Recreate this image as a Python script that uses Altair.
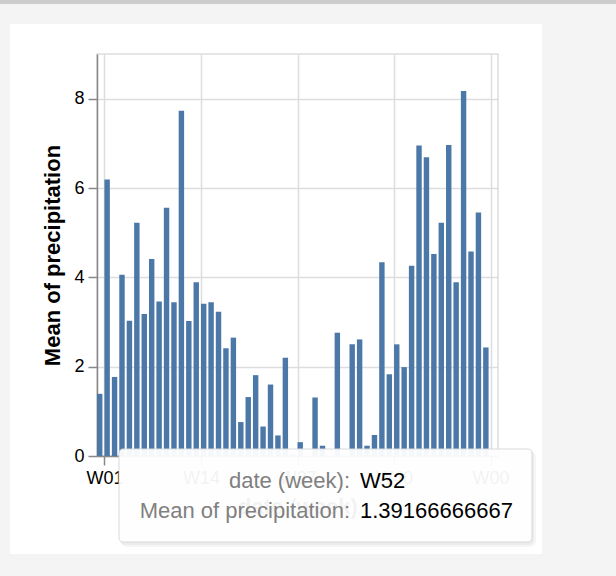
import altair as alt
import pandas as pd

# ---- data ----
weeks = list(range(54))
precipitation = [
    1.3917, 6.19, 1.77, 4.06, 3.03, 5.22, 3.18, 4.41, 3.46, 5.56,
    3.44, 7.73, 3.02, 3.89, 3.41, 3.44, 3.23, 2.41, 2.65, 0.76,
    1.32, 1.81, 0.66, 1.60, 0.46, 2.20, 0.03, 0.31, 0.0, 1.31,
    0.23, 0.0, 2.76, 0.0, 2.50, 2.61, 0.23, 0.47, 4.34, 1.83,
    2.50, 1.99, 4.26, 6.95, 6.69, 4.52, 5.22, 6.96, 3.89, 8.17,
    4.58, 5.45, 2.43, 0.0,
]
x_tick_values = [1, 14, 27, 40, 53]
x_tick_labels = ["W01", "W14", "W27", "W40", "W00"]
y_tick_values = [0, 2, 4, 6, 8]

tooltip_keys = ["date (week):", "Mean of precipitation:"]
tooltip_values = ["W52", "1.39166666667"]

df = pd.DataFrame({
    "week": weeks,
    "week_end": [w + 1 for w in weeks],
    "precipitation": precipitation,
})

label_expr = "''"
for v, l in reversed(list(zip(x_tick_values, x_tick_labels))):
    label_expr = f"datum.value == {v} ? '{l}' : ({label_expr})"

FONT = "Liberation Sans"
PL, PT, W, H = 97, 54, 401, 402
one = pd.DataFrame({"k": [0]})


def box(x, x2, y, y2, **kw):
    return alt.Chart(one).mark_rect(**kw).encode(
        x=alt.value(x), x2=alt.value(x2), y=alt.value(y), y2=alt.value(y2)
    )


# page frame around the white card (coordinates relative to plot origin)
bg = "#f4f4f4"
frame = [
    box(-PL, 616 - PL, -PT, 24 - PT, color=bg),
    box(-PL, 616 - PL, 554 - PT, 576 - PT, color=bg),
    box(-PL, 10 - PL, 24 - PT, 554 - PT, color=bg),
    box(542 - PL, 616 - PL, 24 - PT, 554 - PT, color=bg),
    box(-PL, 616 - PL, -PT, 4 - PT, color="#cccccc"),
]

bars = alt.Chart(df).mark_bar(color="#4c78a8", x2Offset=-2).encode(
    x=alt.X(
        "week:Q",
        scale=alt.Scale(domain=[0, 54], nice=False, zero=False),
        axis=alt.Axis(
            values=x_tick_values, labelExpr=label_expr, title="date (week)",
            labelFlush=False, labelOverlap=False,
        ),
    ),
    x2="week_end:Q",
    y=alt.Y(
        "precipitation:Q",
        scale=alt.Scale(domain=[0, 9], nice=False),
        axis=alt.Axis(values=y_tick_values, title="Mean of precipitation"),
    ),
    y2=alt.datum(0),
)

# tooltip overlay
tx, tx2, ty, ty2 = 119 - PL, 532 - PL, 449 - PT, 542 - PT
shadow = [
    box(tx + 2, tx2 + 4, ty + 2, ty2 + 5, color="black", opacity=0.035, cornerRadius=6),
    box(tx + 1, tx2 + 2, ty + 1, ty2 + 3, color="black", opacity=0.04, cornerRadius=5),
]
tip = alt.Chart(one).mark_rect(
    fill="white", fillOpacity=0.95, stroke="#d9d9d9", strokeWidth=1, cornerRadius=4
).encode(x=alt.value(tx), x2=alt.value(tx2), y=alt.value(ty), y2=alt.value(ty2))

texts = []
baselines = [487.5 - PT, 517.5 - PT]
for k, v, b in zip(tooltip_keys, tooltip_values, baselines):
    texts.append(alt.Chart(one).mark_text(
        text=k, align="right", baseline="alphabetic", font=FONT, fontSize=22, color="#808080"
    ).encode(x=alt.value(350 - PL), y=alt.value(b)))
    texts.append(alt.Chart(one).mark_text(
        text=v, align="left", baseline="alphabetic", font=FONT, fontSize=22, color="black"
    ).encode(x=alt.value(360 - PL), y=alt.value(b)))

chart = alt.layer(*frame, bars, *shadow, tip, *texts).properties(
    width=W, height=H,
    autosize=alt.AutoSizeParams(type="none"),
    padding={"left": PL, "top": PT, "right": 616 - PL - W, "bottom": 576 - PT - H},
    background="white",
).configure_axis(
    labelFont=FONT, labelFontSize=18, labelColor="black",
    titleFont=FONT, titleFontSize=22, titleFontWeight="bold", titleColor="black",
    tickSize=9, labelPadding=4, titlePadding=9,
    domainColor="#888", tickColor="#888", domainWidth=1.5, tickWidth=1.5,
    gridColor="#ddd", gridWidth=1.5,
).configure_view(stroke="#ddd", strokeWidth=1.5)

chart.save("out.html", embed_options={"renderer": "svg", "actions": False})
